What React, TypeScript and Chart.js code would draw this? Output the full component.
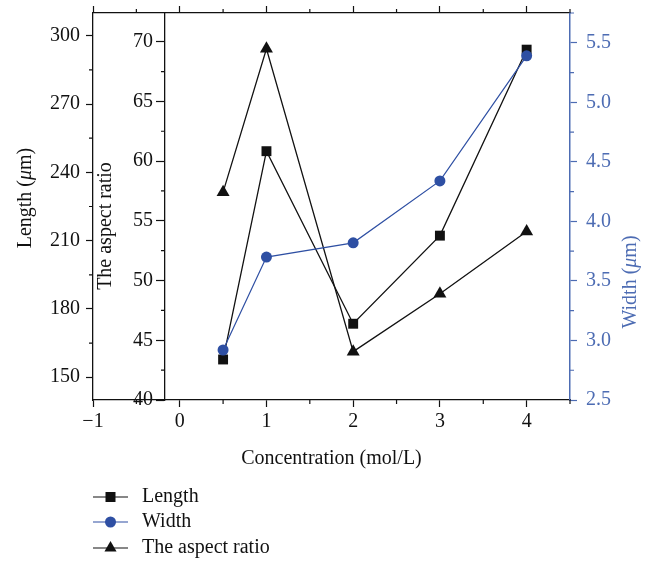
import { useEffect, useRef } from 'react';
import { Chart, registerables } from 'chart.js';
Chart.register(...registerables);

// ---- data ----
const CONCENTRATION = [0.5, 1, 2, 3, 4];
const LENGTH = [157.8, 249.3, 173.5, 212.2, 293.9];
const WIDTH = [2.92, 3.7, 3.82, 4.34, 5.39];
const ASPECT = [57.4, 69.4, 44.05, 48.9, 54.1];

const X_TICKS = [-1, 0, 1, 2, 3, 4];
const X_MINOR = [-0.5, 0.5, 1.5, 2.5, 3.5, 4.5];
const LENGTH_TICKS = [150, 180, 210, 240, 270, 300];
const LENGTH_MINOR = [165, 195, 225, 255, 285];
const ASPECT_TICKS = [40, 45, 50, 55, 60, 65, 70];
const ASPECT_MINOR = [42.5, 47.5, 52.5, 57.5, 62.5, 67.5];
const WIDTH_TICKS = [2.5, 3, 3.5, 4, 4.5, 5, 5.5];
const WIDTH_MINOR = [2.75, 3.25, 3.75, 4.25, 4.75, 5.25, 5.75];

const LEGEND_LABELS = ['Length', 'Width', 'The aspect ratio'];
const X_TITLE = 'Concentration (mol/L)';
const ASPECT_TITLE = 'The aspect ratio';
const ASPECT_AXIS_AT = -0.17;

const FONT = "'Liberation Serif', 'Times New Roman', serif";
const FS = 20;
const BLACK = '#111111';
const BLUE = '#2e4fa3';
const AXIS_BLUE = '#4d6cb3';

const fixTicks = (vals: number[]) => (s: any) => {
  s.ticks = vals.map((value) => ({ value }));
};
const fitTo = (w: number | null, h: number | null) => (s: any) => {
  if (w !== null) s.width = w;
  if (h !== null) s.height = h;
  s.paddingTop = 0;
  s.paddingBottom = 0;
  s.paddingLeft = 0;
  s.paddingRight = 0;
};

type Part = { t: string; i?: boolean };

function drawParts(ctx: CanvasRenderingContext2D, parts: Part[], cx: number, cy: number, rot: number, size: number, color: string) {
  ctx.save();
  ctx.translate(cx, cy);
  ctx.rotate(rot);
  ctx.fillStyle = color;
  ctx.textBaseline = 'middle';
  ctx.textAlign = 'left';
  let total = 0;
  const widths = parts.map((p) => {
    ctx.font = `${p.i ? 'italic ' : ''}${size}px ${FONT}`;
    const w = ctx.measureText(p.t).width;
    total += w;
    return w;
  });
  let x = -total / 2;
  parts.forEach((p, k) => {
    ctx.font = `${p.i ? 'italic ' : ''}${size}px ${FONT}`;
    ctx.fillText(p.t, x, 0);
    x += widths[k];
  });
  ctx.restore();
}

function marker(ctx: CanvasRenderingContext2D, style: string, x: number, y: number, color: string) {
  ctx.fillStyle = color;
  ctx.beginPath();
  if (style === 'rect') {
    ctx.rect(x - 5, y - 5, 10, 10);
  } else if (style === 'circle') {
    ctx.arc(x, y, 5.5, 0, Math.PI * 2);
  } else {
    const r = 7;
    ctx.moveTo(x, y - r);
    ctx.lineTo(x + r * 0.866, y + r * 0.5);
    ctx.lineTo(x - r * 0.866, y + r * 0.5);
    ctx.closePath();
  }
  ctx.fill();
}

const decorPlugin = {
  id: 'decor',
  afterDraw(chart: any) {
    const ctx: CanvasRenderingContext2D = chart.ctx;
    const { x, xTop, yL, yA, yW } = chart.scales;
    ctx.save();
    // minor ticks
    ctx.lineWidth = 1.2;
    ctx.strokeStyle = BLACK;
    ctx.beginPath();
    X_MINOR.forEach((v) => {
      const px = x.getPixelForValue(v);
      ctx.moveTo(px, x.top);
      ctx.lineTo(px, x.top + 4);
      ctx.moveTo(px, xTop.bottom);
      ctx.lineTo(px, xTop.bottom - 4);
    });
    LENGTH_MINOR.forEach((v) => {
      const py = yL.getPixelForValue(v);
      ctx.moveTo(yL.right, py);
      ctx.lineTo(yL.right - 4, py);
    });
    const ax = x.getPixelForValue(ASPECT_AXIS_AT);
    ASPECT_MINOR.forEach((v) => {
      const py = yA.getPixelForValue(v);
      ctx.moveTo(ax, py);
      ctx.lineTo(ax - 4, py);
    });
    ctx.stroke();
    ctx.strokeStyle = AXIS_BLUE;
    ctx.beginPath();
    WIDTH_MINOR.forEach((v) => {
      const py = yW.getPixelForValue(v);
      ctx.moveTo(yW.left, py);
      ctx.lineTo(yW.left + 4, py);
    });
    ctx.stroke();

    // aspect-ratio tick labels (inner axis)
    ctx.fillStyle = BLACK;
    ctx.font = `${FS}px ${FONT}`;
    ctx.textAlign = 'right';
    ctx.textBaseline = 'middle';
    ASPECT_TICKS.forEach((v) => {
      ctx.fillText(String(v), ax - 12, yA.getPixelForValue(v));
    });

    // axis titles
    const area = chart.chartArea;
    drawParts(ctx, [{ t: 'Length (' }, { t: 'μ', i: true }, { t: 'm)' }], 26, 198, -Math.PI / 2, FS, BLACK);
    drawParts(ctx, [{ t: ASPECT_TITLE }], 106, 226, -Math.PI / 2, FS, BLACK);
    drawParts(ctx, [{ t: 'Width (' }, { t: 'μ', i: true }, { t: 'm)' }], 631, 282, -Math.PI / 2, FS, AXIS_BLUE);
    drawParts(ctx, [{ t: X_TITLE }], (area.left + area.right) / 2, 459, 0, FS, BLACK);

    // legend
    const styles = ['rect', 'circle', 'triangle'];
    const colors = [BLACK, BLUE, BLACK];
    const rows = [497, 522, 548];
    LEGEND_LABELS.forEach((label, k) => {
      const y = rows[k];
      ctx.strokeStyle = colors[k];
      ctx.lineWidth = 1.2;
      ctx.beginPath();
      ctx.moveTo(93, y);
      ctx.lineTo(128, y);
      ctx.stroke();
      marker(ctx, styles[k], 110.5, y, colors[k]);
      ctx.fillStyle = BLACK;
      ctx.font = `${FS}px ${FONT}`;
      ctx.textAlign = 'left';
      ctx.textBaseline = 'middle';
      ctx.fillText(label, 142, y);
    });
    ctx.restore();
  },
};

export default function App() {
  const ref = useRef<HTMLCanvasElement>(null);
  useEffect(() => {
    if (!ref.current) return;
    const tickFont = { family: FONT, size: FS };
    const chart = new Chart(ref.current, {
      type: 'line',
      data: {
        datasets: [
          {
            label: 'Length',
            yAxisID: 'yL',
            data: CONCENTRATION.map((c, i) => ({ x: c, y: LENGTH[i] })),
            borderColor: BLACK,
            backgroundColor: BLACK,
            borderWidth: 1.3,
            pointStyle: 'rect',
            pointRadius: 7,
            pointBorderWidth: 0,
            order: 3,
          },
          {
            label: 'Width',
            yAxisID: 'yW',
            data: CONCENTRATION.map((c, i) => ({ x: c, y: WIDTH[i] })),
            borderColor: BLUE,
            backgroundColor: BLUE,
            borderWidth: 1.2,
            pointStyle: 'circle',
            pointRadius: 5.5,
            pointBorderWidth: 0,
            order: 1,
          },
          {
            label: 'The aspect ratio',
            yAxisID: 'yA',
            data: CONCENTRATION.map((c, i) => ({ x: c, y: ASPECT[i] })),
            borderColor: BLACK,
            backgroundColor: BLACK,
            borderWidth: 1.3,
            pointStyle: 'triangle',
            pointRadius: 7.5,
            pointBorderWidth: 0,
            order: 2,
          },
        ],
      },
      options: {
        responsive: false,
        animation: false,
        layout: { padding: { left: 0, right: 0, top: 0, bottom: 93 } },
        plugins: { legend: { display: false }, tooltip: { enabled: false } },
        scales: {
          x: {
            type: 'linear',
            position: 'bottom',
            min: -1,
            max: 4.5,
            afterBuildTicks: fixTicks(X_TICKS),
            afterFit: fitTo(null, 70),
            ticks: {
              font: tickFont,
              color: BLACK,
              padding: 3,
              maxRotation: 0,
              autoSkip: false,
              callback: (v: any) => (v < 0 ? '\u2212' + Math.abs(v) : String(v)),
            },
            grid: { drawOnChartArea: false, tickLength: 7, tickColor: BLACK, tickWidth: 1.2 },
            border: { color: BLACK, width: 1.3 },
          },
          xTop: {
            type: 'linear',
            position: 'top',
            min: -1,
            max: 4.5,
            afterBuildTicks: fixTicks(X_TICKS),
            afterFit: fitTo(null, 13),
            ticks: { display: false },
            grid: { drawOnChartArea: false, tickLength: 7, tickColor: BLACK, tickWidth: 1.2 },
            border: { color: BLACK, width: 1.3 },
          },
          yL: {
            type: 'linear',
            position: 'left',
            min: 140,
            max: 310,
            afterBuildTicks: fixTicks(LENGTH_TICKS),
            afterFit: fitTo(93, null),
            ticks: { font: tickFont, color: BLACK, padding: 6, autoSkip: false },
            grid: { drawOnChartArea: false, tickLength: 7, tickColor: BLACK, tickWidth: 1.2 },
            border: { color: BLACK, width: 1.3 },
          },
          yA: {
            type: 'linear',
            position: { x: ASPECT_AXIS_AT } as any,
            min: 40,
            max: 72.4,
            afterBuildTicks: fixTicks(ASPECT_TICKS),
            afterFit: fitTo(null, null),
            ticks: { display: false },
            grid: { drawOnChartArea: false, tickLength: 8, tickColor: BLACK, tickWidth: 1.2 },
            border: { color: BLACK, width: 1.3 },
          },
          yW: {
            type: 'linear',
            position: 'right',
            min: 2.5,
            max: 5.75,
            afterBuildTicks: fixTicks(WIDTH_TICKS),
            afterFit: fitTo(79, null),
            ticks: {
              font: tickFont,
              color: AXIS_BLUE,
              padding: 9,
              autoSkip: false,
              callback: (v: any) => Number(v).toFixed(1),
            },
            grid: { drawOnChartArea: false, tickLength: 7, tickColor: AXIS_BLUE, tickWidth: 1.2 },
            border: { color: AXIS_BLUE, width: 1.5 },
          },
        },
      },
      plugins: [decorPlugin],
    });
    return () => chart.destroy();
  }, []);
  return (
    <div style={{ position: 'absolute', left: 0, top: 0, width: 649, height: 563, background: '#fff' }}>
      <canvas ref={ref} width={649} height={563} />
    </div>
  );
}
